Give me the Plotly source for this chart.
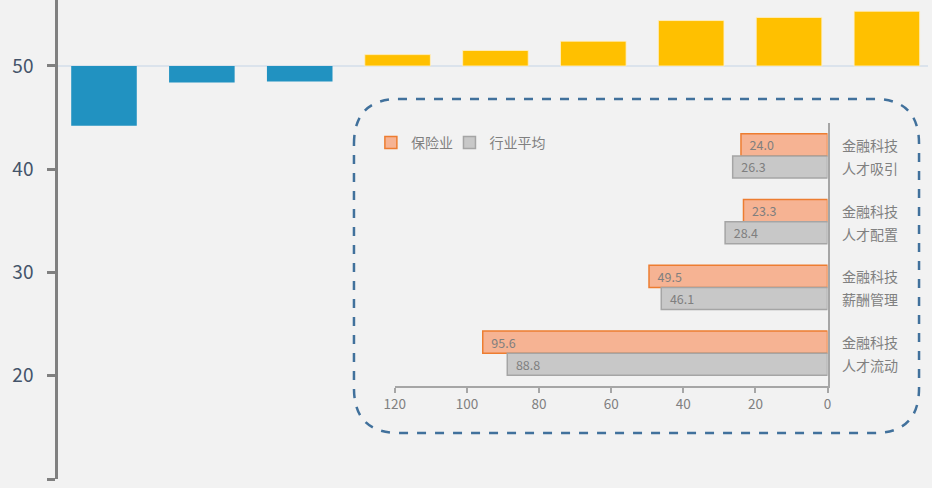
import plotly.graph_objects as go

# ---------- data ----------
main_categories = ["1", "2", "3", "4", "5", "6", "7", "8", "9"]
main_values = [44.2, 48.4, 48.5, 51.1, 51.5, 52.4, 54.4, 54.7, 55.3]
baseline = 50

inset_top_labels = ["金融科技", "金融科技", "金融科技", "金融科技"]
inset_bottom_labels = ["人才吸引", "人才配置", "薪酬管理", "人才流动"]
inset_categories = ["人才吸引", "人才配置", "薪酬管理", "人才流动"]
insurance_values = [24.0, 23.3, 49.5, 95.6]
industry_values = [26.3, 28.4, 46.1, 88.8]
series_names = ["保险业", "行业平均"]
inset_ticks = [0, 20, 40, 60, 80, 100, 120]

# ---------- layout helpers ----------
W, H = 932, 488
ML, MR, MT, MB = 57.5, 0, 0, 9
PW, PH = W - ML - MR, H - MT - MB


def px(x):
    return (x - ML) / PW


def py(y):
    return (H - MB - y) / PH


FONT = "Noto Sans CJK SC, Noto Sans, sans-serif"
BLUE = "#2192c1"
YELLOW = "#ffc000"
NBSP = "\u00a0"

fig = go.Figure()

colors = [BLUE if v < baseline else YELLOW for v in main_values]
line_colors = ["rgba(0,0,0,0)" if v < baseline else "rgba(255,240,200,0.8)" for v in main_values]
fig.add_trace(go.Bar(
    x=main_categories,
    y=[v - baseline for v in main_values],
    base=baseline,
    marker=dict(color=colors, line=dict(color=line_colors, width=1)),
    showlegend=False,
    hoverinfo="skip",
    xaxis="x", yaxis="y",
))

fig.add_trace(go.Bar(
    y=inset_categories, x=insurance_values, orientation="h", name=series_names[0],
    marker=dict(color="#f6b393", line=dict(color="#ed7d31", width=1.5)),
    text=[NBSP * 2 + f"{v:.1f}" for v in insurance_values], textposition="inside",
    insidetextanchor="end", textangle=0, constraintext="none",
    insidetextfont=dict(color="#7f7f7f", size=12.5, family=FONT),
    xaxis="x2", yaxis="y2", legend="legend",
))
fig.add_trace(go.Bar(
    y=inset_categories, x=industry_values, orientation="h", name=series_names[1],
    marker=dict(color="#c8c8c8", line=dict(color="#a5a5a5", width=1.5)),
    text=[NBSP * 2 + f"{v:.1f}" for v in industry_values], textposition="inside",
    insidetextanchor="end", textangle=0, constraintext="none",
    insidetextfont=dict(color="#7f7f7f", size=12.5, family=FONT),
    xaxis="x2", yaxis="y2", legend="legend2",
))

annotations = []
for cat, top, bot in zip(inset_categories, inset_top_labels, inset_bottom_labels):
    for txt, shift in ((top, 11), (bot, -12)):
        annotations.append(dict(
            x=1, xref="x2 domain", y=cat, yref="y2", yshift=shift, xshift=12,
            text=txt, showarrow=False, xanchor="left", yanchor="middle",
            font=dict(size=14, color="#808080", family=FONT),
        ))

# rounded dashed rectangle
L, R, T, B, r = 355, 923, 99, 433, 45
path = (
    f"M {px(L)},{py(T + r)} "
    f"Q {px(L)},{py(T)} {px(L + r)},{py(T)} "
    f"L {px(R - r)},{py(T)} "
    f"Q {px(R)},{py(T)} {px(R)},{py(T + r)} "
    f"L {px(R)},{py(B - r)} "
    f"Q {px(R)},{py(B)} {px(R - r)},{py(B)} "
    f"L {px(L + r)},{py(B)} "
    f"Q {px(L)},{py(B)} {px(L)},{py(B - r)} Z"
)

shapes = [
    dict(type="line", xref="paper", yref="y", x0=0, x1=1, y0=baseline, y1=baseline,
         line=dict(color="#dbe3ec", width=2), layer="below"),
    dict(type="path", xref="paper", yref="paper", path=path,
         line=dict(color="#41719c", width=2.5, dash="dash")),
]

legend_style = dict(orientation="h", xanchor="left", yanchor="top",
                    bgcolor="rgba(0,0,0,0)",
                    font=dict(size=14, color="#808080", family=FONT),
                    itemwidth=30, tracegroupgap=0)

fig.update_layout(
    width=W, height=H,
    margin=dict(l=ML, r=MR, t=MT, b=MB),
    paper_bgcolor="#f2f2f2", plot_bgcolor="#f2f2f2",
    barmode="group", bargap=0.33, bargroupgap=0,
    font=dict(family=FONT),
    xaxis=dict(domain=[0, 1], range=[-0.47, 8.42], showticklabels=False,
               showgrid=False, zeroline=False, showline=False, ticks=""),
    yaxis=dict(range=[10, 56.39], tickvals=[10, 20, 30, 40, 50], showgrid=False,
               zeroline=False, showline=True, linecolor="#808080", linewidth=2.5,
               ticks="outside", ticklen=8, tickwidth=2.5, tickcolor="#808080",
               tickfont=dict(size=19, color="#44546a", family=FONT),
               ticklabelstandoff=10),
    xaxis2=dict(domain=[px(396), px(831)], anchor="y2", range=[120, 0],
                tickvals=inset_ticks, showgrid=False, zeroline=False,
                showline=True, linecolor="#a6a6a6", linewidth=2,
                ticks="outside", ticklen=5, tickwidth=1.5, tickcolor="#a6a6a6",
                tickfont=dict(size=13.5, color="#808080", family=FONT)),
    yaxis2=dict(domain=[py(386), py(123)], anchor="x2", side="right",
                autorange="reversed", showticklabels=False, showgrid=False,
                zeroline=False, showline=True, linecolor="#a6a6a6", linewidth=2,
                ticks=""),
    legend=dict(x=px(372), y=py(127), **legend_style),
    legend2=dict(x=px(451), y=py(127), **legend_style),
    shapes=shapes,
    annotations=annotations,
)

fig.write_html("out.html", config={"displayModeBar": False},
               post_script="document.body.style.margin='0';document.body.style.overflow='hidden';")
